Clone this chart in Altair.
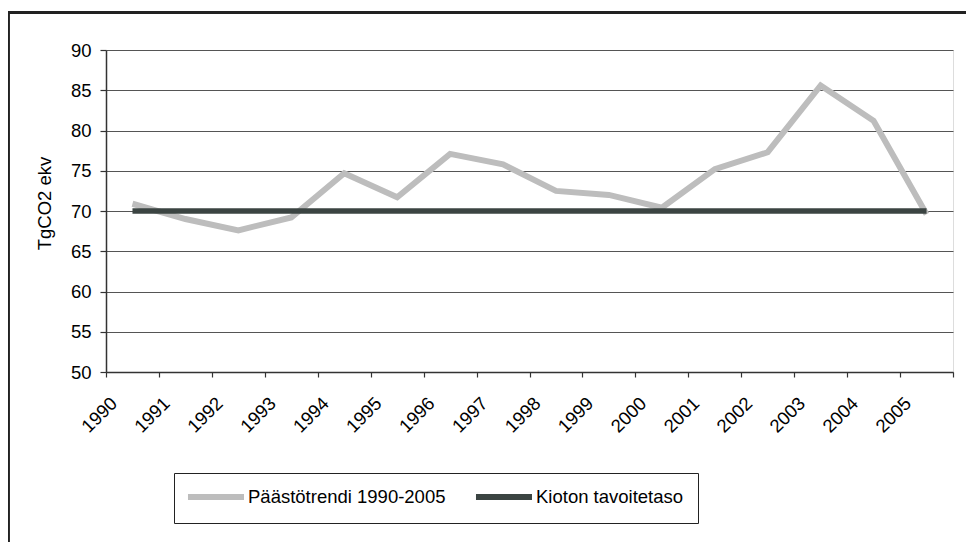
import altair as alt
import pandas as pd

years = [str(y) for y in range(1990, 2006)]
emissions = [70.9, 69.0, 67.6, 69.2, 74.7, 71.7, 77.1, 75.8, 72.5, 72.0, 70.4, 75.2, 77.3, 85.6, 81.2, 69.6]
kyoto = [70.0] * 16
series_names = ["Päästötrendi 1990-2005", "Kioton tavoitetaso"]
series_colors = ["#bdbdbd", "#3b4442"]
y_ticks = [50, 55, 60, 65, 70, 75, 80, 85, 90]

FONT = "Liberation Sans, Arial, sans-serif"

df_e = pd.DataFrame({"year": years, "value": emissions, "series": series_names[0]})
df_k = pd.DataFrame({"year": years, "value": kyoto, "series": series_names[1]})

x_enc = alt.X(
    "year:N",
    sort=years,
    scale=alt.Scale(type="band", paddingInner=0, paddingOuter=0),
    axis=alt.Axis(
        title=None,
        labelAngle=-45,
        labelAlign="right",
        labelBaseline="middle",
        tickBand="extent",
        tickSize=5,
        labelPadding=23,
        labelOffset=-19,
        grid=False,
        labelFontSize=18.5,
        labelFont=FONT,
        labelColor="#000",
        domainColor="#333",
        domainWidth=1.5,
        tickColor="#333",
        tickWidth=1.2,
    ),
)
y_enc = alt.Y(
    "value:Q",
    scale=alt.Scale(domain=[50, 90], nice=False, zero=False),
    axis=alt.Axis(
        values=y_ticks,
        title="TgCO2 ekv",
        titleFont=FONT,
        titleFontSize=18.5,
        titleFontWeight="normal",
        titleColor="#000",
        titleAngle=270,
        titleX=-62,
        titleY=153,
        titleAlign="center",
        titleBaseline="middle",
        labelFontSize=18.5,
        labelFont=FONT,
        labelColor="#000",
        labelPadding=9,
        tickSize=6,
        tickColor="#333",
        tickWidth=1.2,
        domainColor="#333",
        domainWidth=1.5,
        gridColor="#555",
        gridWidth=1,
    ),
)
color_enc = alt.Color(
    "series:N",
    scale=alt.Scale(domain=series_names, range=series_colors),
    legend=alt.Legend(
        orient="none",
        legendX=68,
        legendY=423,
        direction="horizontal",
        title=None,
        symbolType="M-1.43,0H6.57",
        symbolSize=196,
        symbolStrokeWidth=6,
        symbolFillColor="transparent",
        labelFontSize=18.5,
        labelFont=FONT,
        labelColor="#000",
        labelOffset=40,
        labelLimit=0,
        columnPadding=17,
        padding=14,
        strokeColor="#222",
    ),
)

emis = alt.Chart(df_e).mark_line(strokeWidth=6, strokeCap="butt").encode(x=x_enc, y=y_enc, color=color_enc)
kyo = alt.Chart(df_k).mark_line(strokeWidth=5.5, strokeCap="butt").encode(x=x_enc, y=y_enc, color=color_enc)

frame = alt.Chart(df_e).mark_rect(fill=None, stroke="#222", strokeWidth=1.3).encode(
    x=alt.value(-97.5), x2=alt.value(2000), y=alt.value(-37.5), y2=alt.value(1000)
)

chart = (
    alt.layer(frame, emis, kyo)
    .properties(
        width=847,
        height=322,
        padding={"left": 98, "top": 42, "right": 13, "bottom": 170},
        autosize=alt.AutoSizeParams(type="none"),
    )
    .configure_view(stroke="#999", strokeWidth=1.5)
    .configure(background="white")
)

chart.save("out.html", embed_options={"renderer": "svg", "actions": False})
